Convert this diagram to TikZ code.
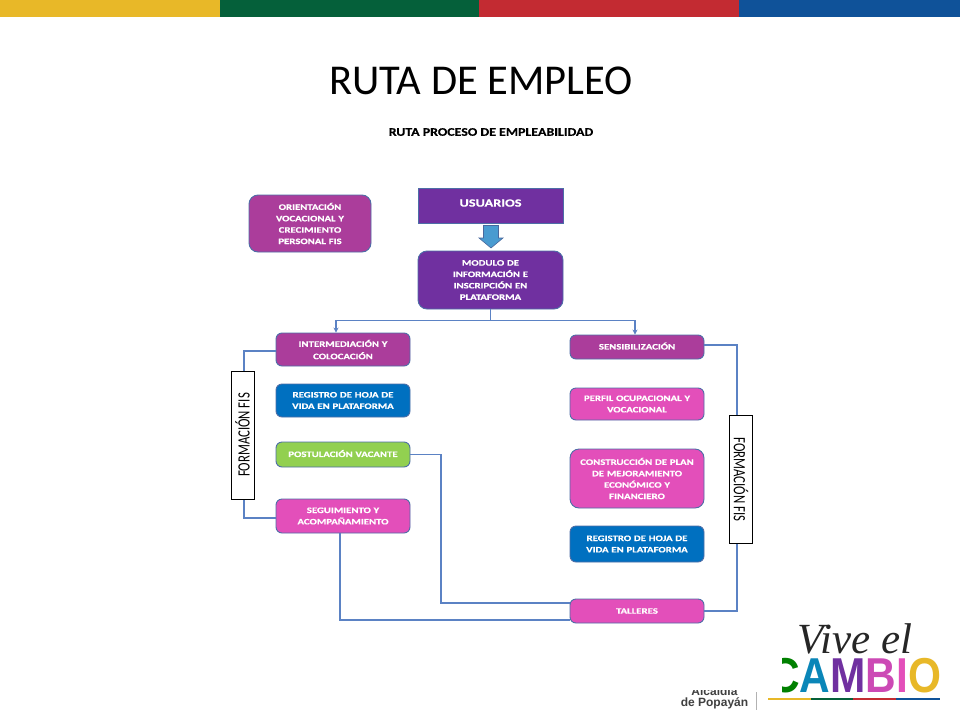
\documentclass[tikz,border=0pt]{standalone}
\usepackage{fontspec}
\setmainfont{Carlito}
\newfontfamily\boxf{Carlito}[FakeStretch=1.3,BoldFeatures={FakeStretch=1.3,FakeBold=0.6}]
\newfontfamily\subf{Carlito}[FakeStretch=1.2,BoldFeatures={FakeStretch=1.2,FakeBold=0.5}]
\newfontfamily\lsans{Liberation Sans}
\newfontfamily\lserif{Liberation Serif}
\usetikzlibrary{arrows.meta}
\definecolor{cyel}{HTML}{E8B828}
\definecolor{cgrn}{HTML}{05603A}
\definecolor{cred}{HTML}{C32B32}
\definecolor{cblu}{HTML}{0F5299}
\definecolor{cpur}{HTML}{7030A0}
\definecolor{cmag}{HTML}{AB3D9B}
\definecolor{cpink}{HTML}{E34FBA}
\definecolor{cbox}{HTML}{0070C0}
\definecolor{clime}{HTML}{92D050}
\definecolor{cline}{HTML}{5B82C4}
\tikzset{
 flow/.style={draw=cline!85!black,line width=0.9pt,rounded corners=6pt,text=white,align=center,
   font=\boxf\bfseries\fontsize{8.3}{11.4}\selectfont,inner sep=0pt,text width=128pt},
 conn/.style={draw=cline,line width=1.2pt},
 tag/.style={draw=black,fill=white,line width=1pt,inner sep=0pt,font=\fontsize{15}{16}\selectfont,minimum width=23pt,minimum height=128pt},
}
\begin{document}
\begin{tikzpicture}[x=1pt,y=-1pt]
\useasboundingbox (0,0) rectangle (960,720);
\fill[white] (0,0) rectangle (960,720);
\fill[cyel] (0,0) rectangle (220,17);
\fill[cgrn] (220,0) rectangle (479,17);
\fill[cred] (479,0) rectangle (739,17);
\fill[cblu] (739,0) rectangle (960,17);
\node[font=\fontsize{42.5}{44}\selectfont,inner sep=0pt] (title) at (481,81) {RUTA DE EMPLEO};
\node[font=\subf\bfseries\fontsize{11.6}{13}\selectfont,inner sep=0pt] (sub) at (491,132) {RUTA PROCESO DE EMPLEABILIDAD};

\node[flow,fill=cmag,rounded corners=9pt,minimum width=122pt,text width=118pt,minimum height=57pt] (ori) at (310,223.5) {ORIENTACIÓN\\VOCACIONAL Y\\CRECIMIENTO\\PERSONAL FIS};
\node[flow,fill=cpur,rounded corners=0pt,minimum width=145pt,minimum height=35pt,font=\boxf\bfseries\fontsize{11}{13}\selectfont] (usu) at (490.5,205.5) {\raisebox{5pt}{USUARIOS}};
\node[flow,fill=cpur,rounded corners=9pt,minimum width=145pt,minimum height=58pt] (mod) at (490.5,280) {MODULO DE\\INFORMACIÓN E\\INSCRIPCIÓN EN\\PLATAFORMA};
\draw[draw=cline!80!black,fill=cline!80!cyan,line width=0.6pt] (483.5,225.5) -- (498.5,225.5) -- (498.5,238) -- (503,238) -- (491,248) -- (479,238) -- (483.5,238) -- cycle;

\node[flow,fill=cmag,minimum width=134pt,minimum height=33pt] (int) at (343,349.5) {\raisebox{1pt}{INTERMEDIACIÓN Y}\\COLOCACIÓN};
\node[flow,fill=cbox,minimum width=134pt,minimum height=33pt] (reg1) at (343,400.5) {REGISTRO DE HOJA DE\\VIDA EN PLATAFORMA};
\node[flow,fill=clime,minimum width=134pt,minimum height=25pt] (pos) at (343,454.5) {\raisebox{2pt}{POSTULACIÓN VACANTE}};
\node[flow,fill=cpink,minimum width=134pt,minimum height=34pt] (seg) at (343,516) {SEGUIMIENTO Y\\ACOMPAÑAMIENTO};

\node[flow,fill=cmag,minimum width=134pt,minimum height=24pt] (sen) at (637,347) {\raisebox{2pt}{SENSIBILIZACIÓN}};
\node[flow,fill=cpink,minimum width=134pt,minimum height=32pt] (per) at (637,404) {PERFIL OCUPACIONAL Y\\VOCACIONAL};
\node[flow,fill=cpink,minimum width=134pt,minimum height=59pt,rounded corners=9pt] (con) at (637,478.5) {CONSTRUCCIÓN DE PLAN\\DE MEJORAMIENTO\\ECONÓMICO Y\\FINANCIERO};
\node[flow,fill=cbox,minimum width=134pt,minimum height=36pt] (reg2) at (637,544) {REGISTRO DE HOJA DE\\VIDA EN PLATAFORMA};
\node[flow,fill=cpink,minimum width=134pt,minimum height=24pt] (tal) at (637,611) {TALLERES};

\node[tag] (fl) at (242.5,435) {\rotatebox{90}{\scalebox{0.85}[1.15]{FORMACIÓN FIS}}};
\node[tag] (fr) at (741,479.5) {\rotatebox{-90}{\scalebox{0.85}[1.15]{FORMACIÓN FIS}}};

\draw[conn] (mod.south) -- ++(0,11) coordinate (j);
\draw[conn,-{Stealth[length=5pt,width=5pt]}] (j) -| (int.north -| 336,0);
\draw[conn,-{Stealth[length=5pt,width=5pt]}] (j) -| (sen.north -| 635,0);
\draw[conn] (int.west |- 0,351) -| (fl.north -| 244,0);
\draw[conn] (seg.west |- 0,518) -| (fl.south -| 244,0);
\draw[conn] (sen.east |- 0,345) -| (fr.north -| 737,0);
\draw[conn] (tal.east) -| (fr.south -| 737,0);
\draw[conn] (pos.east) -| (441,603) -- (tal.west |- 0,603);
\draw[conn] (seg.south -| 340,0) |- (tal.west |- 0,620);

% logo
\node[font=\lserif\itshape\fontsize{43}{43}\selectfont,inner sep=0pt,text=black!85] (vive) at (855,639) {Vive el};
\begin{scope}
\clip (782,650) rectangle (950,695);
\node[font=\lsans\bfseries\fontsize{49}{49}\selectfont,inner sep=0pt,anchor=base west] (cam) at (769,692) {\scalebox{0.865}[1]{\textcolor{green!50!black}{C}\textcolor{cblu!70!cyan}{A}\textcolor{cpur}{M}\textcolor{cpink!80!cpur}{B}\textcolor{cpink}{I}\textcolor{cyel}{O}}};
\end{scope}
\fill[cyel] (768,698) rectangle (811,699.5);
\fill[cgrn] (811,698) rectangle (853,699.5);
\fill[cred] (853,698) rectangle (896,699.5);
\fill[cblu] (896,698) rectangle (940,699.5);
\fill[black!30] (756,692) rectangle (757,710);
\begin{scope}
\clip (670,690.5) rectangle (752,712);
\node[font=\lsans\fontsize{12}{11}\selectfont,text=black!75,align=center,inner sep=0pt] (alc) at (714.5,697.5) {\textbf{Alcaldía}\\\textbf{de Popayán}};
\end{scope}
\end{tikzpicture}
\end{document}
